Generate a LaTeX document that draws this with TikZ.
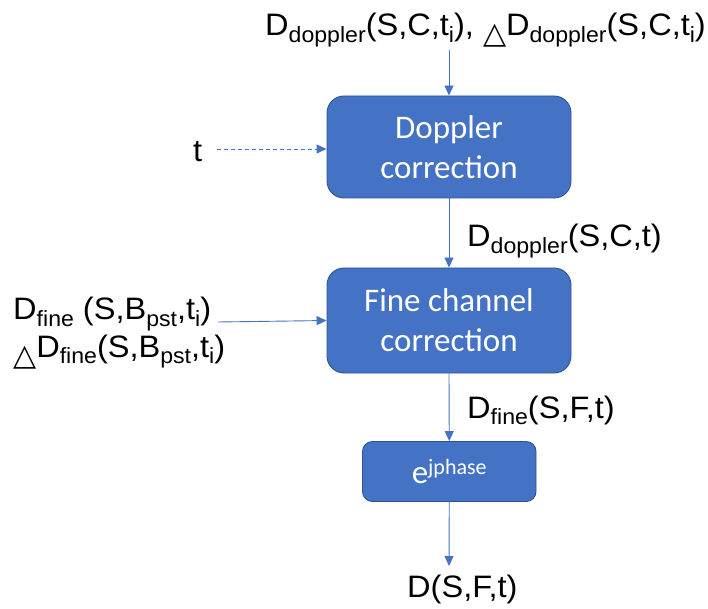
\documentclass[tikz,border=0pt]{standalone}
\usepackage{fontspec}
\usetikzlibrary{arrows.meta}
\newfontfamily\lab[FakeStretch=1.05]{Liberation Sans}
\newfontfamily\boxf{Carlito}
\newfontfamily\symf{DejaVu Sans}
\definecolor{pblue}{HTML}{4472C4}
\definecolor{pborder}{HTML}{2F528F}
\newcommand\sbs[1]{\raisebox{-6.5pt}{\fontsize{22}{22}\selectfont #1}}
\newcommand\tri{\raisebox{-8pt}{\symf\fontsize{30}{30}\selectfont △}}
\tikzset{
  blk/.style={draw=pborder, line width=0.9pt, fill=pblue, rounded corners=17pt,
    text=white, inner sep=0pt, align=center,
    font=\boxf\fontsize{33}{40}\selectfont},
  lbl/.style={anchor=base west, inner sep=0pt, font=\lab\fontsize{31}{31}\selectfont},
  conn/.style={draw=pblue, line width=0.9pt, -{Triangle[length=10pt,width=9pt]}}
}
\begin{document}
\begin{tikzpicture}[x=1pt,y=1pt]
\useasboundingbox (0,0) rectangle (708,608);
% boxes
\node[blk, minimum width=244pt, minimum height=102pt] (dop) at (449,461) {Doppler\\correction};
\node[blk, minimum width=244pt, minimum height=105pt] (fine) at (449,287.5) {Fine channel\\correction};
\node[blk, rounded corners=10pt, minimum width=173.5pt, minimum height=60pt] (eph) at (449.25,136.5)
  {e\raisebox{9pt}{\fontsize{22}{22}\selectfont jphase}};
% labels
\node[lbl] (top) at (265,572) {D\sbs{doppler}(S,C,t\sbs{i}), \tri D\sbs{doppler}(S,C,t\sbs{i})};
\node[lbl] (tl) at (193,446) {t};
\node[lbl] (dd) at (467,361) {D\sbs{doppler}(S,C,t)};
\node[lbl] (df) at (467,190) {D\sbs{fine}(S,F,t)};
\node[lbl] (out) at (407,11) {D(S,F,t)};
\node[lbl] (lf1) at (13,288) {D\sbs{fine} (S,B\sbs{pst},t\sbs{i})};
\node[lbl] (lf2) at (13,251) {\tri D\sbs{fine}(S,B\sbs{pst},t\sbs{i})};
% connector ends
\coordinate (s1) at (449,558);
\coordinate (ts) at (217,459);
\coordinate (fs) at (218,286);
\coordinate (oe) at (449,42);
% connectors
\draw[conn] (s1) -- (dop.north);
\draw[conn, dashed, dash pattern=on 4pt off 3pt] (ts) -- (ts -| dop.west);
\draw[conn] (dop.south) -- (fine.north);
\draw[conn] (fs) -- (fine.west);
\draw[conn] (fine.south) -- (eph.north);
\draw[conn] (eph.south) -- (oe);
\end{tikzpicture}
\end{document}
